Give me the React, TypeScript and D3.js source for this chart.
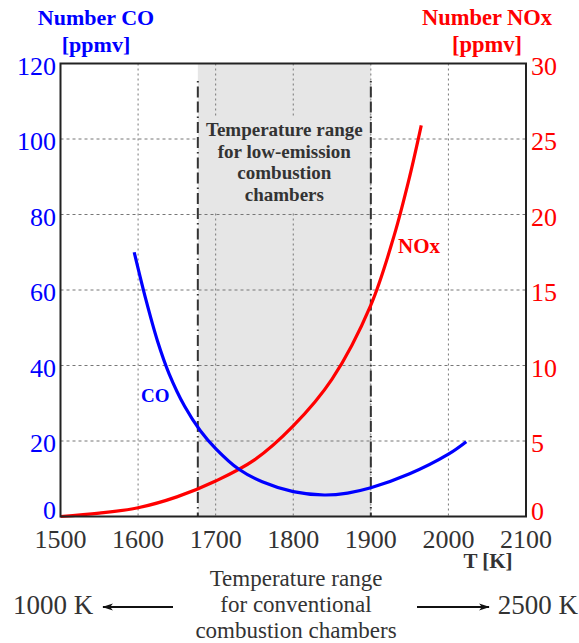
import React from "react";
import * as d3 from "d3";

// Temperature [K] at which each curve was sampled
const coTemps = [1595, 1610, 1625, 1640, 1660, 1680, 1700, 1730, 1760, 1800, 1840, 1870, 1900, 1950, 2000, 2023];
// CO emission [ppmv], left axis
const coValues = [70, 57.5, 46.5, 37.8, 29.2, 22.8, 18, 12.5, 9.2, 6.6, 5.7, 6.2, 7.6, 11.3, 16.5, 19.8];

const noxTemps = [1500, 1550, 1600, 1650, 1700, 1750, 1800, 1850, 1900, 1930, 1950, 1965];
// NOx emission [ppmv], right axis
const noxValues = [0, 0.22, 0.58, 1.3, 2.35, 3.75, 6.0, 9.1, 14.0, 18.6, 22.5, 25.9];

const xTicks = [1500, 1600, 1700, 1800, 1900, 2000, 2100];
const coTicks = [0, 20, 40, 60, 80, 100, 120];
const noxTicks = [0, 5, 10, 15, 20, 25, 30];

// Low-emission combustion temperature window
const lowEmissionRange = [1677, 1900];

const W = 579;
const H = 643;
const left = 60.5;
const right = 526;
const top = 63.5;
const bottom = 516.5;

const SERIF = "'Liberation Serif', 'Times New Roman', serif";

export default function App() {
  const x = d3.scaleLinear().domain([1500, 2100]).range([left, right]);
  const yCO = d3.scaleLinear().domain([0, 120]).range([bottom, top]);
  const yNOx = d3.scaleLinear().domain([0, 30]).range([bottom, top]);

  const coLine = d3
    .line<number>()
    .x((_, i) => x(coTemps[i]))
    .y((d) => yCO(d))
    .curve(d3.curveCatmullRom.alpha(0.5));
  const noxLine = d3
    .line<number>()
    .x((_, i) => x(noxTemps[i]))
    .y((d) => yNOx(d))
    .curve(d3.curveCatmullRom.alpha(0.5));

  const x0 = x(lowEmissionRange[0]);
  const x1 = x(lowEmissionRange[1]);

  return (
    <svg
      width={W}
      height={H}
      viewBox={`0 0 ${W} ${H}`}
      style={{ position: "absolute", left: 0, top: 0, background: "#fff" }}
    >
      <rect x={0} y={0} width={W} height={H} fill="#fff" />

      {/* shaded low-emission window */}
      <rect x={x0} y={top} width={x1 - x0} height={bottom - top} fill="#e6e6e6" />

      {/* grid */}
      {coTicks.slice(1, -1).map((t) => (
        <line
          key={"h" + t}
          x1={left}
          x2={right}
          y1={yCO(t)}
          y2={yCO(t)}
          stroke="#777"
          strokeWidth={1}
          strokeDasharray="3,3"
        />
      ))}
      {xTicks.slice(1, -1).map((t) => (
        <line
          key={"v" + t}
          x1={x(t)}
          x2={x(t)}
          y1={top}
          y2={bottom}
          stroke="#777"
          strokeWidth={1}
          strokeDasharray="2,3"
        />
      ))}

      {/* window caption */}
      <rect x={x0 + 1} y={117} width={x1 - x0 - 2} height={94} fill="#e6e6e6" />
      <text
        fontFamily={SERIF}
        fontWeight="bold"
        fontSize={19}
        fill="#333"
        textAnchor="middle"
      >
        {["Temperature range", "for low-emission", "combustion", "chambers"].map((s, i) => (
          <tspan key={s} x={(x0 + x1) / 2} y={136 + i * 21.7}>
            {s}
          </tspan>
        ))}
      </text>

      {/* window boundaries */}
      {[x0, x1].map((xv, i) => (
        <line
          key={"b" + i}
          x1={xv}
          x2={xv}
          y1={81}
          y2={bottom}
          stroke="#333"
          strokeWidth={2}
          strokeDasharray="1.5,4,11,4,11,4"
        />
      ))}

      {/* curves */}
      <path d={noxLine(noxValues) ?? ""} fill="none" stroke="#ff0000" strokeWidth={3.2} />
      <path d={coLine(coValues) ?? ""} fill="none" stroke="#0000ff" strokeWidth={3.2} />

      {/* curve labels */}
      <text x={141} y={402} fontFamily={SERIF} fontWeight="bold" fontSize={19} fill="#0000ff">
        CO
      </text>
      <text x={398} y={253} fontFamily={SERIF} fontWeight="bold" fontSize={21} fill="#ff0000">
        NOx
      </text>

      {/* frame */}
      <rect
        x={left}
        y={top}
        width={right - left}
        height={bottom - top}
        fill="none"
        stroke="#222"
        strokeWidth={2}
      />

      {/* left axis */}
      {coTicks.map((t) => (
        <text
          key={"l" + t}
          x={left - 4.5}
          y={t === 0 ? yCO(t) + 2.5 : yCO(t) + 11}
          fontFamily={SERIF}
          fontSize={26}
          fill="#0000ff"
          textAnchor="end"
        >
          {t}
        </text>
      ))}
      {/* right axis */}
      {noxTicks.map((t) => (
        <text
          key={"r" + t}
          x={right + 5}
          y={t === 0 ? yNOx(t) + 3 : yNOx(t) + 11}
          fontFamily={SERIF}
          fontSize={26}
          fill="#ff0000"
          textAnchor="start"
        >
          {t}
        </text>
      ))}
      {/* bottom axis */}
      {xTicks.map((t) => (
        <text
          key={"x" + t}
          x={x(t)}
          y={548}
          fontFamily={SERIF}
          fontSize={26}
          fill="#333"
          textAnchor="middle"
        >
          {t}
        </text>
      ))}
      <text x={488} y={568} fontFamily={SERIF} fontWeight="bold" fontSize={21} fill="#333" textAnchor="middle">
        T [K]
      </text>

      {/* axis titles */}
      <text fontFamily={SERIF} fontWeight="bold" fontSize={22} fill="#0000ff" textAnchor="middle">
        <tspan x={96} y={25}>Number CO</tspan>
        <tspan x={96} y={52}>[ppmv]</tspan>
      </text>
      <text fontFamily={SERIF} fontWeight="bold" fontSize={22.5} fill="#ff0000" textAnchor="middle">
        <tspan x={487} y={25}>Number NOx</tspan>
        <tspan x={487} y={52}>[ppmv]</tspan>
      </text>

      {/* conventional range note */}
      <text fontFamily={SERIF} fontSize={23} fill="#333" textAnchor="middle">
        <tspan x={296} y={586}>Temperature range</tspan>
        <tspan x={296} y={612}>for conventional</tspan>
        <tspan x={296} y={638}>combustion chambers</tspan>
      </text>
      <defs>
        <marker id="arrowHead" viewBox="0 0 12 10" refX={11} refY={5} markerWidth={12} markerHeight={9} markerUnits="userSpaceOnUse" orient="auto">
          <path d="M0,1 L12,5 L0,9 L3,5 Z" fill="#111" />
        </marker>
      </defs>
      <line x1={173} y1={607} x2={103} y2={607} stroke="#111" strokeWidth={2} markerEnd="url(#arrowHead)" />
      <line x1={417} y1={607} x2={489} y2={607} stroke="#111" strokeWidth={2} markerEnd="url(#arrowHead)" />
      <text x={13} y={614} fontFamily={SERIF} fontSize={27} fill="#333">
        1000 K
      </text>
      <text x={578} y={614} fontFamily={SERIF} fontSize={27} fill="#333" textAnchor="end">
        2500 K
      </text>
    </svg>
  );
}
